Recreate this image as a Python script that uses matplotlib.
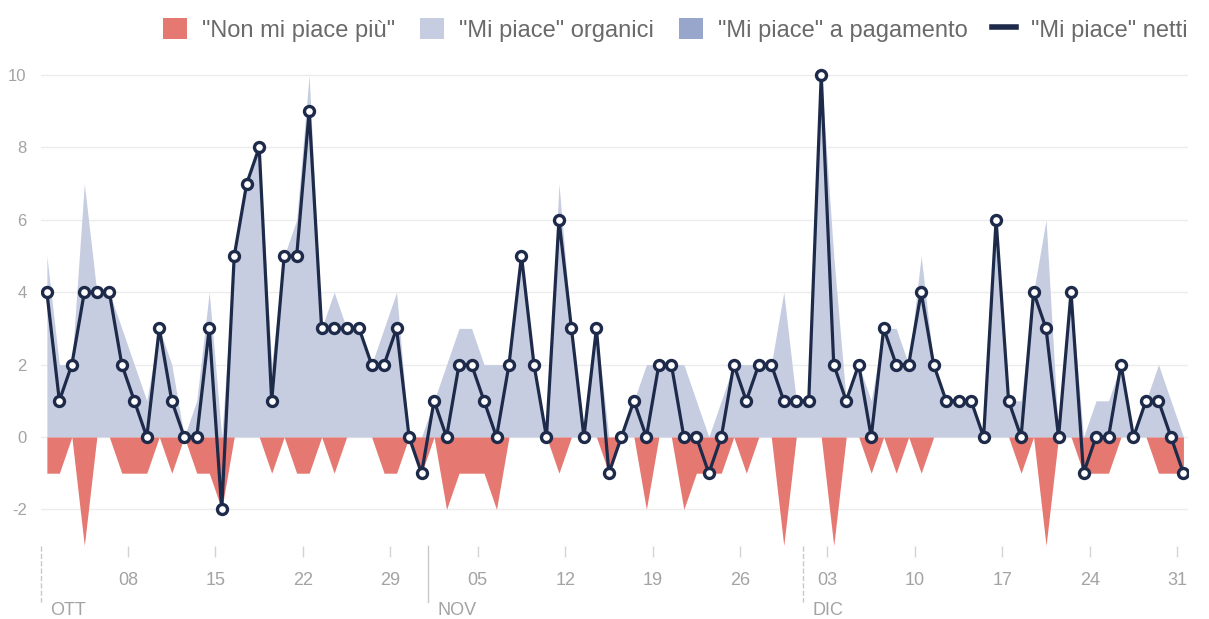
import numpy as np
import matplotlib.pyplot as plt
from matplotlib.patches import Patch
from matplotlib.lines import Line2D

plt.rcParams['font.family'] = ['Liberation Sans', 'DejaVu Sans']
plt.rcParams['axes.unicode_minus'] = False

# daily values, 1 Oct .. 31 Dec (92 days)
net_ott = [4, 1, 2, 4, 4, 4, 2, 1, 0, 3, 1, 0, 0, 3, -2, 5, 7, 8, 1, 5, 5, 9, 3, 3, 3, 3, 2, 2, 3, 0, -1]
net_nov = [1, 0, 2, 2, 1, 0, 2, 5, 2, 0, 6, 3, 0, 3, -1, 0, 1, 0, 2, 2, 0, 0, -1, 0, 2, 1, 2, 2, 1, 1]
net_dic = [1, 10, 2, 1, 2, 0, 3, 2, 2, 4, 2, 1, 1, 1, 0, 6, 1, 0, 4, 3, 0, 4, -1, 0, 0, 2, 0, 1, 1, 0, -1]

org_ott = [5, 2, 2, 7, 4, 4, 3, 2, 1, 3, 2, 0, 1, 4, 0, 5, 7, 8, 2, 5, 6, 10, 3, 4, 3, 3, 2, 3, 4, 0, 0]
org_nov = [1, 2, 3, 3, 2, 2, 2, 5, 2, 0, 7, 3, 0, 3, 0, 0, 1, 2, 2, 2, 2, 1, 0, 1, 2, 2, 2, 2, 4, 1]
org_dic = [1, 10, 5, 1, 2, 1, 3, 3, 2, 5, 2, 1, 1, 1, 0, 6, 1, 1, 4, 6, 0, 4, 0, 1, 1, 2, 0, 1, 2, 1, 0]

unl_ott = [1, 1, 0, 3, 0, 0, 1, 1, 1, 0, 1, 0, 1, 1, 2, 0, 0, 0, 1, 0, 1, 1, 0, 1, 0, 0, 0, 1, 1, 0, 1]
unl_nov = [0, 2, 1, 1, 1, 2, 0, 0, 0, 0, 1, 0, 0, 0, 1, 0, 0, 2, 0, 0, 2, 1, 1, 1, 0, 1, 0, 0, 3, 0]
unl_dic = [0, 0, 3, 0, 0, 1, 0, 1, 0, 1, 0, 0, 0, 0, 0, 0, 0, 1, 0, 3, 0, 0, 1, 1, 1, 0, 0, 0, 1, 1, 1]

# no paid likes in the period
paid_ott = [0, 0, 0, 0, 0, 0, 0, 0, 0, 0, 0, 0, 0, 0, 0, 0, 0, 0, 0, 0, 0, 0, 0, 0, 0, 0, 0, 0, 0, 0, 0]
paid_nov = [0, 0, 0, 0, 0, 0, 0, 0, 0, 0, 0, 0, 0, 0, 0, 0, 0, 0, 0, 0, 0, 0, 0, 0, 0, 0, 0, 0, 0, 0]
paid_dic = [0, 0, 0, 0, 0, 0, 0, 0, 0, 0, 0, 0, 0, 0, 0, 0, 0, 0, 0, 0, 0, 0, 0, 0, 0, 0, 0, 0, 0, 0, 0]

tick_days = [7, 14, 21, 28, 35, 42, 49, 56, 63, 70, 77, 84, 91]
tick_lbls = ['08', '15', '22', '29', '05', '12', '19', '26', '03', '10', '17', '24', '31']
months = ['OTT', 'NOV', 'DIC']
month_start = [0, 31, 61]
month_ls = ['--', '-', '--']
legend_lbls = ['"Non mi piace più"', '"Mi piace" organici', '"Mi piace" a pagamento', '"Mi piace" netti']

net = np.array(net_ott + net_nov + net_dic)
org = np.array(org_ott + org_nov + org_dic)
unl = np.array(unl_ott + unl_nov + unl_dic)
paid = np.array(paid_ott + paid_nov + paid_dic)
xs = np.arange(net.size) + 0.5

c_red = '#e67872'
c_org = '#c6cde1'
c_paid = '#97a6ca'
c_net = '#1e2a4a'
c_txt = '#a3a3a3'

fig = plt.figure(figsize=(12.09, 6.19), dpi=100)
ax = fig.add_axes([0.0336, 0.1186, 0.9494, 0.7719])

ax.fill_between(xs, 0, org, color=c_org, lw=0, zorder=1)
ax.fill_between(xs, org, org + paid, color=c_paid, lw=0, zorder=1)
ax.fill_between(xs, 0, -unl, color=c_red, lw=0, zorder=1)
ax.plot(xs, net, color=c_net, lw=2.3, marker='o', ms=7.2, mfc='white',
        mec=c_net, mew=2.4, zorder=3)

ax.set_xlim(0, 91.9)
ax.set_ylim(-3, 10.2)
ax.set_yticks([-2, 0, 2, 4, 6, 8, 10])
ax.grid(axis='y', color='#ececec', lw=1, zorder=0)
ax.set_axisbelow(True)
for s in ax.spines.values():
    s.set_visible(False)
ax.tick_params(axis='y', length=0, pad=10, labelsize=12, labelcolor=c_txt)
ax.set_xticks(tick_days)
ax.set_xticklabels(tick_lbls)
ax.tick_params(axis='x', length=8, width=1, color='#d4d4d4', pad=11,
               labelsize=13, labelcolor=c_txt)

tr = ax.get_xaxis_transform()
for m, d, ls in zip(months, month_start, month_ls):
    ax.plot([d, d], [0, -0.118], transform=tr, color='#c8c8c8', lw=1,
            ls=ls, clip_on=False)
    ax.text(d + 0.8, -0.135, m, transform=tr, ha='left', va='center',
            fontsize=13, color=c_txt)

handles = [Patch(facecolor=c_red, edgecolor='none'),
           Patch(facecolor=c_org, edgecolor='none'),
           Patch(facecolor=c_paid, edgecolor='none'),
           Line2D([0], [0], color=c_net, lw=4)]
leg = fig.legend(handles, legend_lbls, loc='center right', ncol=4,
                 bbox_to_anchor=(1188 / 1209, 1 - 30 / 619), frameon=False,
                 fontsize=17, handlelength=1.0, handleheight=0.95,
                 handletextpad=0.65, columnspacing=1.05, borderpad=0,
                 borderaxespad=0)
for t in leg.get_texts():
    t.set_color('#6a6a6a')

fig.savefig('out.png', dpi=100)
